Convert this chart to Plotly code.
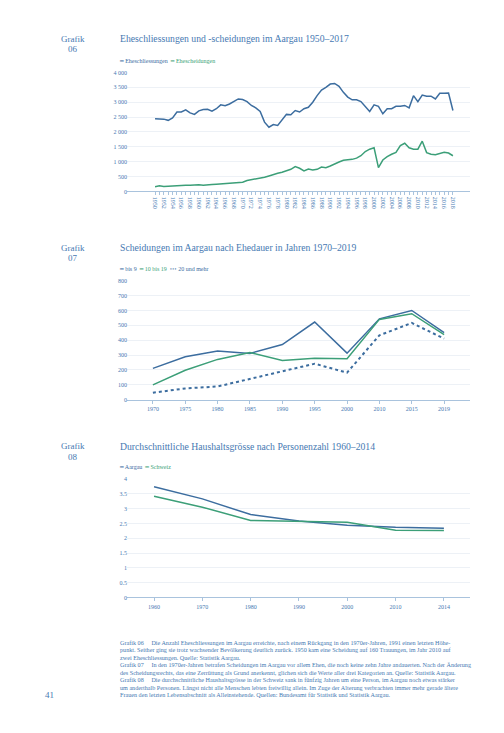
import plotly.graph_objects as go

W, H = 504, 733

# ---------------- data ----------------
years1 = [str(y) for y in range(1950, 2019)]
year1_labels = [y if int(y) % 2 == 0 else "" for y in years1]
marriages = [2443, 2430, 2430, 2390, 2470, 2670, 2670, 2740, 2640, 2590,
             2710, 2750, 2760, 2700, 2780, 2910, 2880, 2940, 3020, 3110,
             3090, 3020, 2890, 2810, 2690, 2330, 2160, 2250, 2220, 2390,
             2590, 2580, 2720, 2670, 2780, 2830, 3000, 3220, 3410, 3500,
             3610, 3630, 3530, 3330, 3170, 3080, 3080, 3020, 2860, 2690,
             2910, 2860, 2610, 2780, 2780, 2860, 2860, 2890, 2810, 3220,
             3020, 3240, 3200, 3200, 3110, 3300, 3300, 3310, 2720]
divorces = [160, 189, 167, 178, 200, 200, 200, 211, 211, 222,
            222, 211, 233, 233, 244, 256, 267, 267, 278, 300,
            311, 367, 389, 422, 456, 478, 522, 578, 611, 644,
            700, 744, 833, 778, 689, 756, 722, 744, 822, 800,
            856, 911, 990, 1050, 1056, 1078, 1120, 1200, 1340, 1420,
            1467, 800, 1056, 1170, 1250, 1311, 1540, 1620, 1467, 1422,
            1422, 1689, 1305, 1250, 1235, 1265, 1320, 1290, 1200]
y1_vals = [0, 500, 1000, 1500, 2000, 2500, 3000, 3500, 4000]
y1_text = ["0", "500", "1 000", "1 500", "2 000", "2 500", "3 000", "3 500", "4 000"]

years2 = ["1970", "1975", "1980", "1985", "1990", "1995", "2000", "2010", "2015", "2019"]
dur_0_9 = [211, 289, 327, 311, 371, 522, 313, 544, 600, 451]
dur_10_19 = [100, 198, 271, 318, 264, 278, 276, 540, 578, 438]
dur_20 = [47, 76, 89, 140, 189, 242, 182, 433, 516, 411]
y2_vals = [0, 100, 200, 300, 400, 500, 600, 700, 800]

years3 = ["1960", "1970", "1980", "1990", "2000", "2010", "2014"]
hh_aargau = [3.74, 3.33, 2.80, 2.58, 2.44, 2.37, 2.34]
hh_schweiz = [3.42, 3.05, 2.60, 2.57, 2.54, 2.27, 2.26]
y3_vals = [0, 0.5, 1, 1.5, 2, 2.5, 3, 3.5, 4]
y3_text = ["0", "0.5", "1", "1.5", "2", "2.5", "3", "3.5", "4"]

titles = ["Eheschliessungen und -scheidungen im Aargau 1950–2017",
          "Scheidungen im Aargau nach Ehedauer in Jahren 1970–2019",
          "Durchschnittliche Haushaltsgrösse nach Personenzahl 1960–2014"]
numbers = ["06", "07", "08"]

footnote = [
    "Grafik 06\u2003 Die Anzahl Eheschliessungen im Aargau erreichte, nach einem Rückgang in den 1970er-Jahren, 1991 einen letzten Höhe-",
    "punkt. Seither ging sie trotz wachsender Bevölkerung deutlich zurück. 1950 kam eine Scheidung auf 160 Trauungen, im Jahr 2010 auf",
    "zwei Eheschliessungen. Quelle: Statistik Aargau.",
    "Grafik 07\u2003 In den 1970er-Jahren betrafen Scheidungen im Aargau vor allem Ehen, die noch keine zehn Jahre andauerten. Nach der Änderung",
    "des Scheidungsrechts, das eine Zerrüttung als Grund anerkennt, glichen sich die Werte aller drei Kategorien an. Quelle: Statistik Aargau.",
    "Grafik 08\u2003 Die durchschnittliche Haushaltsgrösse in der Schweiz sank in fünfzig Jahren um eine Person, im Aargau noch etwas stärker",
    "um anderthalb Personen. Längst nicht alle Menschen lebten freiwillig allein. Im Zuge der Alterung verbrachten immer mehr gerade ältere",
    "Frauen den letzten Lebensabschnitt als Alleinstehende. Quellen: Bundesamt für Statistik und Statistik Aargau.",
]

# ---------------- styles ----------------
BLUE = "#3c6d9f"
GREEN = "#3c9f78"
TXT = "#4679b2"
GRID = "#edf1f6"
AXIS = "#a9c3dd"
FONT = "Liberation Serif"

def px(x):
    return x / W

def py(y):
    return 1 - y / H

fig = go.Figure()

fig.add_trace(go.Scatter(x=years1, y=marriages, mode="lines", line=dict(color=BLUE, width=1.5),
                         xaxis="x", yaxis="y", showlegend=False))
fig.add_trace(go.Scatter(x=years1, y=divorces, mode="lines", line=dict(color=GREEN, width=1.5),
                         xaxis="x", yaxis="y", showlegend=False))

fig.add_trace(go.Scatter(x=years2, y=dur_0_9, mode="lines", line=dict(color=BLUE, width=1.5),
                         xaxis="x2", yaxis="y2", showlegend=False))
fig.add_trace(go.Scatter(x=years2, y=dur_10_19, mode="lines", line=dict(color=GREEN, width=1.5),
                         xaxis="x2", yaxis="y2", showlegend=False))
fig.add_trace(go.Scatter(x=years2, y=dur_20, mode="lines", line=dict(color=BLUE, width=2, dash="dot"),
                         xaxis="x2", yaxis="y2", showlegend=False))

fig.add_trace(go.Scatter(x=years3, y=hh_aargau, mode="lines", line=dict(color=BLUE, width=1.5),
                         xaxis="x3", yaxis="y3", showlegend=False))
fig.add_trace(go.Scatter(x=years3, y=hh_schweiz, mode="lines", line=dict(color=GREEN, width=1.5),
                         xaxis="x3", yaxis="y3", showlegend=False))

tickfont = dict(family=FONT, size=6, color=TXT)
xdom = [px(127), px(470)]

common_x = dict(showgrid=False, zeroline=False, showline=True, linecolor=AXIS, linewidth=1,
                ticks="outside", ticklen=3, tickcolor=AXIS, tickfont=tickfont, domain=xdom,
                type="category")
common_y = dict(showgrid=True, gridcolor=GRID, gridwidth=1, zeroline=False, showline=False,
                ticks="", tickfont=tickfont, anchor="free", position=px(127))

fig.update_layout(
    width=W, height=H, margin=dict(l=0, r=0, t=0, b=0),
    paper_bgcolor="white", plot_bgcolor="white", showlegend=False,
    xaxis=dict(common_x, range=[-6.4, 71.9], tickvals=years1, ticktext=year1_labels,
               tickangle=90, anchor="y"),
    yaxis=dict(common_y, domain=[py(190), py(70)], range=[0, 4000],
               tickvals=y1_vals, ticktext=y1_text),
    xaxis2=dict(common_x, range=[-0.8, 9.8], anchor="y2"),
    yaxis2=dict(common_y, domain=[py(400), py(280)], range=[0, 800], tickvals=y2_vals),
    xaxis3=dict(common_x, range=[-0.56, 6.54], anchor="y3"),
    yaxis3=dict(common_y, domain=[py(599.3), py(480)], range=[0, 4],
                tickvals=y3_vals, ticktext=y3_text),
)

ann = []
title_y = [36, 247, 447]
legend_y = [58, 268, 467]
for i in range(3):
    ann.append(dict(text="Grafik", x=px(72.5), y=py(title_y[i]), xref="paper", yref="paper",
                    xanchor="center", yanchor="middle", showarrow=False,
                    font=dict(family=FONT, size=9, color=TXT)))
    ann.append(dict(text=numbers[i], x=px(72.5), y=py(title_y[i] + 10.5), xref="paper", yref="paper",
                    xanchor="center", yanchor="middle", showarrow=False,
                    font=dict(family=FONT, size=9, color=TXT)))
    ann.append(dict(text=titles[i], x=px(117.5), y=py(title_y[i]), xref="paper", yref="paper",
                    xanchor="left", yanchor="middle", showarrow=False,
                    font=dict(family=FONT, size=9.7, color=TXT)))

def leg(color, label, glyph="━"):
    return (f"<span style='color:{color};font-family:DejaVu Sans'>{glyph}</span>"
            f"<span style='color:{color}'> {label}</span>")

legends = [
    "\u2002".join([leg(BLUE, "Eheschliessungen"), leg(GREEN, "Ehescheidungen")]),
    "\u2002".join([leg(BLUE, "bis 9"), leg(GREEN, "10 bis 19"), leg(BLUE, "20 und mehr", "<b>···</b>")]),
    "\u2002".join([leg(BLUE, "Aargau"), leg(GREEN, "Schweiz")]),
]
for i in range(3):
    ann.append(dict(text=legends[i], x=px(117), y=py(legend_y[i]), xref="paper", yref="paper",
                    xanchor="left", yanchor="middle", showarrow=False,
                    font=dict(family=FONT, size=6, color=TXT)))

for j, line in enumerate(footnote):
    ann.append(dict(text=line, x=px(117.5), y=py(645 + j * 7.55), xref="paper", yref="paper",
                    xanchor="left", yanchor="middle", showarrow=False,
                    font=dict(family=FONT, size=6.15, color=TXT)))

ann.append(dict(text="41", x=px(49), y=py(698), xref="paper", yref="paper",
                xanchor="center", yanchor="middle", showarrow=False,
                font=dict(family=FONT, size=9, color=TXT)))

fig.update_layout(annotations=ann)
fig.write_html("out.html", config={"displayModeBar": False},
               post_script="document.body.style.margin='0';document.body.style.overflow='hidden';")
